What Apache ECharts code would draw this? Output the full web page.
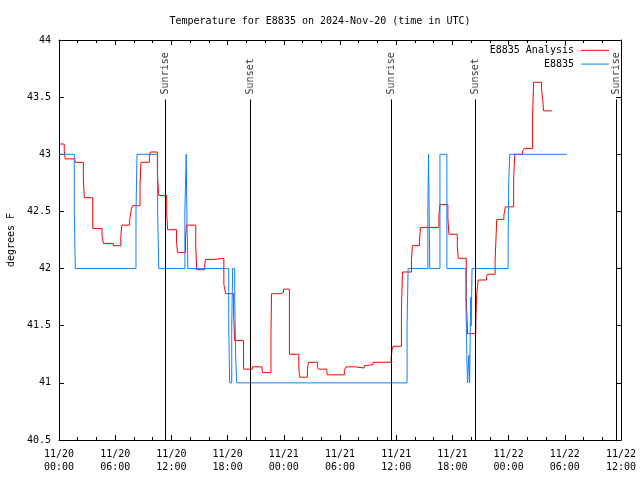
<!DOCTYPE html>
<html>
<head>
<meta charset="utf-8">
<script src="https://cdn.jsdelivr.net/npm/echarts@6/dist/echarts.min.js"></script>
<style>html,body{margin:0;padding:0;background:#fff}#c{width:640px;height:480px}</style>
</head>
<body>
<div id="c"></div>
<script>
// Hours since 2024-11-20 00:00 UTC
const titleText = 'Temperature for E8835 on 2024-Nov-20 (time in UTC)';
const xTickLabels = ['11/20\n00:00','11/20\n06:00','11/20\n12:00','11/20\n18:00','11/21\n00:00','11/21\n06:00','11/21\n12:00','11/21\n18:00','11/22\n00:00','11/22\n06:00','11/22\n12:00'];
const yTicks = [40.5, 41, 41.5, 42, 42.5, 43, 43.5, 44];

const anaName = 'E8835 Analysis';
const anaT = [0,0.56,0.67,1.7,2.6,2.7,3.6,4.6,4.75,5.8,6.6,6.7,7.55,7.7,7.85,8.65,8.75,9.65,9.75,10.5,10.65,11.5,11.6,12.55,12.65,13.5,13.6,14.6,14.7,15.55,15.65,16.6,17.6,17.8,18.65,18.75,19.7,20.65,21.67,21.73,22.63,22.69,23.6,23.97,24.6,25.6,25.67,26.52,26.63,27.59,27.69,28.59,28.65,30.46,30.64,31.63,32.59,32.73,33.54,33.69,35.46,35.56,35.67,36.56,36.67,37.63,37.73,38.48,38.59,40.56,40.67,41.52,41.63,42.52,42.63,43.48,43.62,44.5,44.6,44.76,45.64,45.75,46.56,46.67,46.73,47.5,47.65,48.54,48.65,49.5,49.68,50.56,50.67,51.52,51.67,51.73,52.63];
const anaV = [43.09,43.03,42.96,42.93,42.78,42.62,42.35,42.28,42.22,42.20,42.28,42.38,42.43,42.51,42.55,42.74,42.93,42.98,43.02,42.83,42.64,42.48,42.34,42.24,42.14,42.26,42.38,42.19,41.99,42.03,42.08,42.09,41.86,41.78,41.58,41.37,41.12,41.14,41.12,41.09,41.43,41.78,41.79,41.82,41.25,41.15,41.05,41.11,41.18,41.14,41.12,41.10,41.07,41.11,41.14,41.13,41.15,41.16,41.18,41.18,41.22,41.29,41.32,41.65,41.97,42.08,42.20,42.24,42.36,42.46,42.56,42.44,42.30,42.20,42.09,41.75,41.43,41.54,41.78,41.90,41.93,41.95,42.07,42.30,42.43,42.47,42.54,42.78,43.00,43.03,43.05,43.34,43.63,43.57,43.45,43.38,43.38];

const obsName = 'E8835';
const obsT = [0,1.63,1.74,8.22,8.33,10.53,10.65,13.44,13.58,13.65,13.76,18.12,18.22,18.44,18.54,18.76,18.86,18.97,37.16,37.27,39.38,39.45,39.52,39.58,40.67,41.41,43.44,43.54,43.62,43.76,43.84,43.95,44.0,44.05,44.1,47.95,48.01,48.12,54.22];
const obsV = [43.0,42.5,42.0,42.5,43.0,42.5,42.0,42.5,43.0,42.5,42.0,41.5,41.0,41.5,42.0,41.75,41.24,41.0,41.5,42.0,42.5,43.0,42.5,42.0,43.0,42.0,41.75,41.24,41.0,41.24,41.0,41.75,41.5,41.75,42.0,42.25,42.75,43.0,43.0];

const sunTimes = [11.32, 20.39, 35.44, 44.41, 59.5];
const sunNames = ['Sunrise','Sunset','Sunrise','Sunset','Sunrise'];
const sunLineTop = 43.48;

const FONT = 'DejaVu Sans Mono';
const txt = {fontFamily: FONT, fontSize: 10, color: '#000'};

const chart = echarts.init(document.getElementById('c'), null, {renderer: 'canvas'});

function xAxisCfg(pos, showLabels) {
  return {
    type: 'value', position: pos, min: 0, max: 60, interval: 6,
    axisLine: {show: true, onZero: false, lineStyle: {color: '#000', width: 1}},
    axisTick: {show: true, inside: true, length: 5, lineStyle: {color: '#000'}},
    minorTick: {show: true, splitNumber: 3, length: 3, lineStyle: {color: '#000'}},
    splitLine: {show: false},
    axisLabel: showLabels ? Object.assign({show: true, margin: 8, lineHeight: 13,
      formatter: v => xTickLabels[Math.round(v / 6)] || ''}, txt) : {show: false}
  };
}
function yAxisCfg(pos, showLabels) {
  const c = {
    type: 'value', position: pos, min: yTicks[0], max: yTicks[yTicks.length - 1], interval: 0.5,
    axisLine: {show: true, onZero: false, lineStyle: {color: '#000', width: 1}},
    axisTick: {show: true, inside: true, length: 5, lineStyle: {color: '#000'}},
    splitLine: {show: false},
    axisLabel: showLabels ? Object.assign({show: true, margin: 8}, txt) : {show: false}
  };
  if (showLabels) {
    c.name = 'degrees F';
    c.nameLocation = 'middle';
    c.nameRotate = 90;
    c.nameGap = 43;
    c.nameTextStyle = Object.assign({}, txt);
  }
  return c;
}

const option = {
  animation: false,
  backgroundColor: '#fff',
  title: {text: titleText, left: 'center', top: 11, textStyle: Object.assign({fontWeight: 'normal'}, txt)},
  grid: {left: 59, right: 19, top: 40, bottom: 40, containLabel: false, outerBoundsMode: 'none'},
  legend: {
    data: [anaName, obsName], orient: 'vertical', right: 26, top: 40.3, align: 'right',
    icon: 'rect', itemWidth: 28, itemHeight: 1, itemGap: 3.8,
    textStyle: Object.assign({padding: [0, 2, 0, 0]}, txt),
    selectedMode: false
  },
  xAxis: [xAxisCfg('bottom', true), xAxisCfg('top', false)],
  yAxis: [yAxisCfg('left', true), yAxisCfg('right', false)],
  series: [
    {
      name: anaName, type: 'line', step: 'end', symbol: 'none', xAxisIndex: 0, yAxisIndex: 0,
      lineStyle: {color: '#ff0000', width: 1}, itemStyle: {color: '#ff0000'},
      data: anaT.map((t, i) => [t, anaV[i]])
    },
    {
      name: obsName, type: 'line', step: 'end', symbol: 'none', xAxisIndex: 0, yAxisIndex: 0,
      lineStyle: {color: '#1080ff', width: 1}, itemStyle: {color: '#1080ff'},
      data: obsT.map((t, i) => [t, obsV[i]])
    },
    {
      name: 'sun', type: 'scatter', xAxisIndex: 0, yAxisIndex: 0, symbolSize: 0,
      itemStyle: {color: 'rgba(0,0,0,0)'},
      data: sunTimes.map((t, i) => ({value: [t, sunLineTop], name: sunNames[i]})),
      label: Object.assign({show: true, position: 'top', distance: 5, rotate: 90, align: 'left', verticalAlign: 'middle',
        formatter: p => p.name}, txt),
      markLine: {
        silent: true, symbol: ['none', 'none'], label: {show: false},
        lineStyle: {color: '#000', width: 1, type: 'solid'},
        data: sunTimes.map(t => [{coord: [t, yTicks[0]]}, {coord: [t, sunLineTop]}])
      }
    }
  ]
};
chart.setOption(option);
</script>
</body>
</html>
